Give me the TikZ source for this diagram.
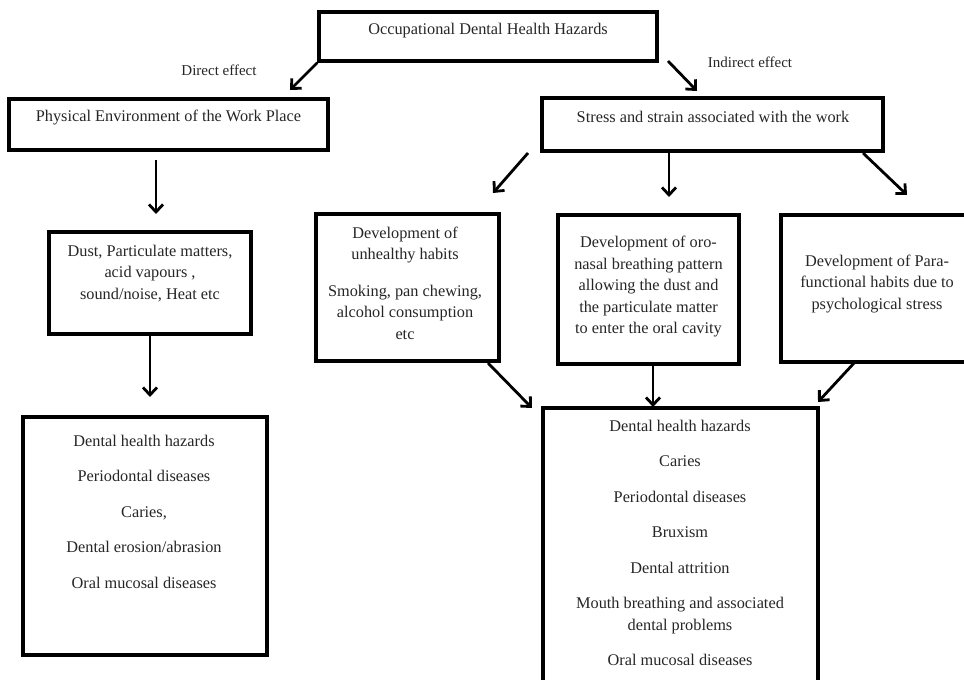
\documentclass[tikz,border=0pt]{standalone}
\usepackage{fontspec}
\setmainfont{Liberation Serif}
\usetikzlibrary{arrows.meta}
\begin{document}
\begin{tikzpicture}[x=1pt,y=-1pt,
  box/.style={draw=black, line width=3.3pt, inner sep=0pt},
  txt/.style={text=black!85, font=\fontsize{16.3}{21.5}\selectfont, align=center, inner sep=0pt, anchor=north},
  lbl/.style={text=black!85, font=\fontsize{15}{18}\selectfont, inner sep=0pt},
  arr/.style={line width=2.8pt, -{Straight Barb[length=7.5pt,width=14pt,line width=2.8pt]}}]
\useasboundingbox (0,0) rectangle (964,680);
\clip (0,0) rectangle (964,680);
\fill[white] (0,0) rectangle (964,680);

% boxes
\node[box, minimum width=338pt, minimum height=49pt] (top) at (488,36.5) {};
\node[box, minimum width=319pt, minimum height=51pt] (phys) at (168.5,124.5) {};
\node[box, minimum width=341pt, minimum height=53pt] (stress) at (712.5,124.5) {};
\node[box, minimum width=202pt, minimum height=102pt] (dust) at (150,283) {};
\node[box, minimum width=244pt, minimum height=238pt] (dentL) at (145,536) {};
\node[box, minimum width=183pt, minimum height=147pt] (unh) at (407.5,287.5) {};
\node[box, minimum width=181pt, minimum height=149pt] (oro) at (648.5,289.5) {};
\node[box, minimum width=187pt, minimum height=147pt] (para) at (874.5,288.5) {};
\node[box, minimum width=275pt, minimum height=304pt] (dentR) at (680.5,560) {};

% texts
\node[txt] (ttop) at (488,22.5) {Occupational Dental Health Hazards};
\node[txt] (tphys) at (168.5,109.5) {Physical Environment of the Work Place};
\node[txt] (tstress) at (713,110.5) {Stress and strain associated with the work};
\node[txt] (tdust) at (150,244.5) {Dust, Particulate matters,\\acid vapours ,\\sound/noise, Heat etc};
\node[txt] (tdentL) at (144,434.5) {Dental health hazards\\[14pt]Periodontal diseases\\[14pt]Caries,\\[14pt]Dental erosion/abrasion\\[14pt]Oral mucosal diseases};
\node[txt] (tunh) at (405,226.5) {Development of\\unhealthy habits\\[15pt]Smoking, pan chewing,\\alcohol consumption\\etc};
\node[txt] (toro) at (648.5,236) {Development of oro-\\nasal breathing pattern\\allowing the dust and\\the particulate matter\\to enter the oral cavity};
\node[txt] (tpara) at (877,254.5) {Development of Para-\\functional habits due to\\psychological stress};
\node[txt] (tdentR) at (680,419.5) {Dental health hazards\\[14pt]Caries\\[14pt]Periodontal diseases\\[14pt]Bruxism\\[14pt]Dental attrition\\[14pt]Mouth breathing and associated\\dental problems\\[14pt]Oral mucosal diseases};

% labels
\node[lbl] (ldirect) at (219,70) {Direct effect};
\node[lbl] (lindirect) at (750,62) {Indirect effect};

% arrow end points
\coordinate (a1e) at (290,90);
\coordinate (a2s) at (668,61);
\coordinate (a2e) at (697,91);
\coordinate (a3s) at (156,160);
\coordinate (a3e) at (156,214);
\coordinate (a4e) at (150,397);
\coordinate (a5s) at (528,153);
\coordinate (a5e) at (493,193);
\coordinate (a6s) at (669,153);
\coordinate (a6e) at (669,197);
\coordinate (a7s) at (863,153);
\coordinate (a7e) at (907,195);
\coordinate (a8s) at (488,363);
\coordinate (a8e) at (532,408);
\coordinate (a9s) at (653,364);
\coordinate (a9e) at (653,407);
\coordinate (a10s) at (855,362);
\coordinate (a10e) at (818,402);

% connectors
\draw[arr] (top.south west) -- (a1e);
\draw[arr] (a2s) -- (a2e);
\draw[arr] (a3s) -- (a3e);
\draw[arr] (dust.south) -- (a4e);
\draw[arr] (a5s) -- (a5e);
\draw[arr] (a6s) -- (a6e);
\draw[arr] (a7s) -- (a7e);
\draw[arr] (a8s) -- (a8e);
\draw[arr] (a9s) -- (a9e);
\draw[arr] (a10s) -- (a10e);
\end{tikzpicture}
\end{document}
